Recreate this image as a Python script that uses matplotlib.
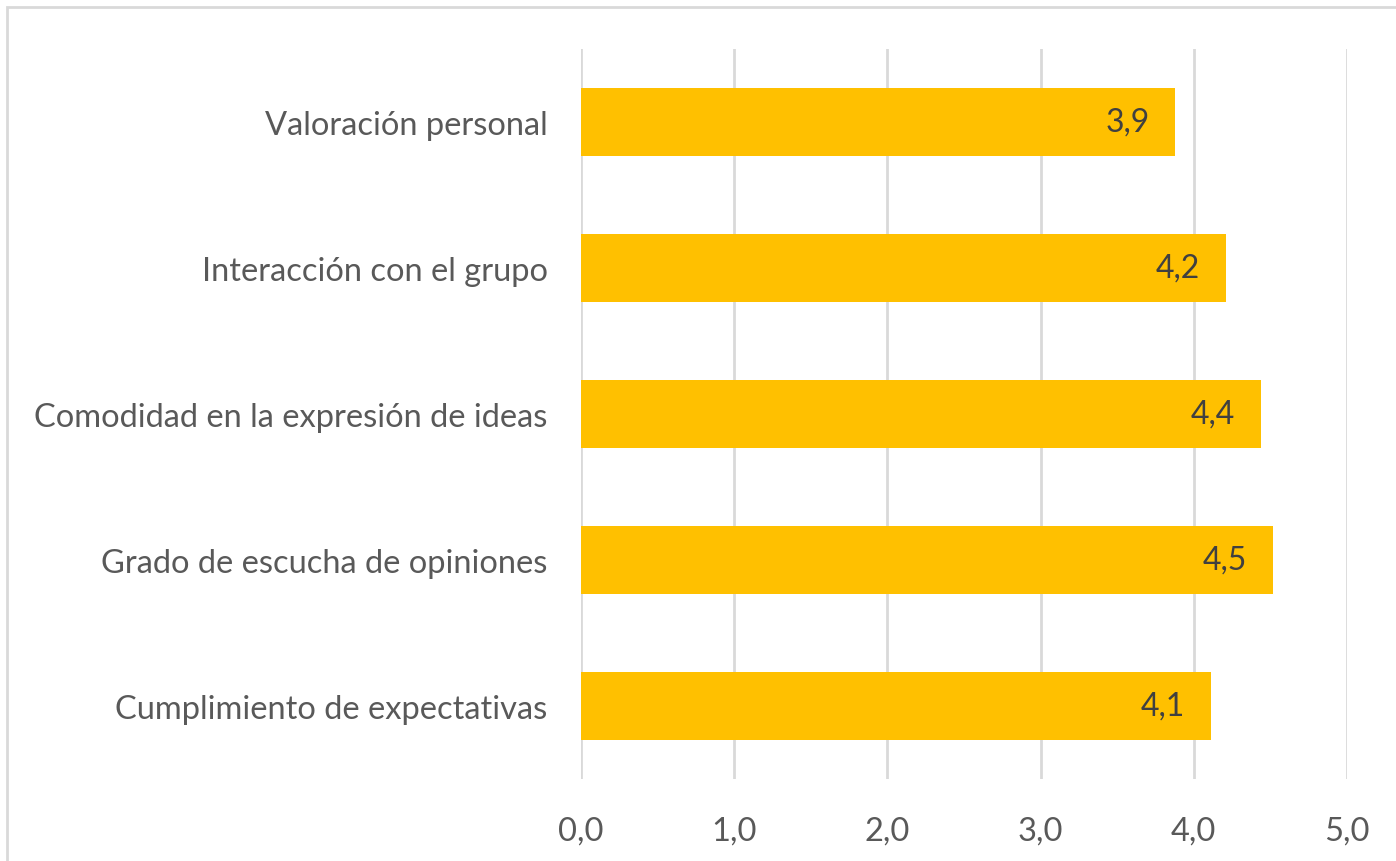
import numpy as np
import matplotlib
matplotlib.use('Agg')
from matplotlib import pyplot as plt
from matplotlib.patches import Rectangle

# categories from bottom to top
categorias = ['Cumplimiento de expectativas', 'Grado de escucha de opiniones',
              'Comodidad en la expresión de ideas', 'Interacción con el grupo',
              'Valoración personal']
valores = [4.11, 4.52, 4.44, 4.21, 3.88]
ticks_x = [0, 1, 2, 3, 4, 5]

plt.rcParams['font.family'] = ['Lato', 'DejaVu Sans']

fig = plt.figure(figsize=(13.96, 8.62), dpi=100)
# axes in pixels: x 581..1347, y 50..780
ax = fig.add_axes([581/1396, 1-780/862, (1347-581)/1396, (780-50)/862])

# light grey frame round the chart
fig.patches.append(Rectangle((7/1396, -0.1), 1.2, 1-8/862+0.1, transform=fig.transFigure,
                             fill=False, edgecolor='#d9d9d9', linewidth=2))

y = np.arange(len(categorias))
ax.barh(y, valores, height=0.47, color='#FFC000', zorder=2)

# value labels inside the bars, right side
for yy, v in zip(y, valores):
    ax.text(v-0.17, yy, ('%.1f' % v).replace('.', ','), ha='right', va='center',
            fontsize=23, color='#404040', zorder=3)

ax.set_xlim(0, 5)
ax.set_ylim(-0.5, len(categorias)-0.5)
ax.set_xticks(ticks_x)
ax.set_xticklabels([('%.1f' % t).replace('.', ',') for t in ticks_x])
ax.set_yticks(y)
ax.set_yticklabels(categorias)
ax.grid(axis='x', color='#d9d9d9', linewidth=2, zorder=0)
ax.tick_params(axis='both', length=0, labelsize=23.5, labelcolor='#595959')
ax.tick_params(axis='x', pad=26)
ax.tick_params(axis='y', pad=24)
for s in ax.spines.values():
    s.set_visible(False)

plt.savefig('out.png', dpi=100)
